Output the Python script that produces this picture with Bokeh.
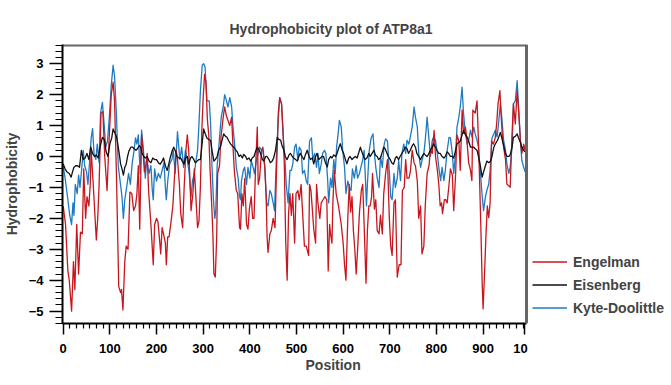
from bokeh.plotting import figure
from bokeh.models import Range1d, SingleIntervalTicker, FixedTicker, Legend, LegendItem, Title, Span
from bokeh.embed import file_html
from bokeh.resources import INLINE

# ---------------- data ----------------
engelman_pos = [0, 5, 10, 13, 18, 22, 25, 29, 33, 37, 41, 44, 48, 51, 55, 58, 60, 64, 68, 71, 74, 77, 81, 85, 89, 94, 98,
                103, 107, 110, 114, 119, 123, 125, 128, 132, 135, 139, 143, 147, 151, 155, 158, 161, 164, 168, 171, 174,
                177, 180, 183, 188, 193, 196, 200, 203, 206, 209, 212, 215, 219, 221, 224, 227, 232, 235, 238, 242, 245,
                249, 252, 256, 259, 263, 266, 269, 272, 274, 278, 281, 284, 288, 291, 294, 297, 300, 303, 306, 309, 312,
                315, 319, 321, 323, 326, 329, 331, 335, 338, 343, 346, 350, 353, 357, 361, 364, 367, 371, 374, 378, 380,
                383, 386, 389, 393, 396, 399, 403, 406, 409, 412, 416, 418, 421, 425, 428, 432, 435, 437, 439, 443, 446,
                450, 454, 457, 461, 464, 468, 471, 474, 477, 480, 483, 486, 489, 492, 496, 499, 503, 506, 510, 512, 517,
                521, 526, 528, 531, 533, 537, 541, 543, 546, 550, 553, 557, 561, 565, 568, 571, 573, 576, 578, 581, 585,
                590, 596, 600, 603, 606, 610, 613, 616, 619, 622, 625, 628, 631, 635, 639, 642, 645, 649, 652, 655, 658,
                661, 663, 667, 670, 673, 677, 680, 684, 687, 691, 695, 699, 702, 705, 709, 712, 716, 720, 724, 727, 731,
                734, 737, 741, 744, 748, 752, 755, 759, 762, 766, 769, 773, 776, 780, 784, 787, 791, 795, 798, 802, 805,
                808, 811, 813, 817, 820, 823, 827, 830, 834, 837, 841, 844, 848, 851, 855, 858, 862, 865, 869, 873, 876,
                878, 883, 887, 890, 892, 895, 898, 900, 903, 906, 909, 912, 915, 918, 922, 926, 929, 932, 936, 938, 941,
                944, 948, 951, 955, 958, 962, 965, 969, 973, 976, 980, 983, 987, 990]
engelman_val = [-1.6, -2.2, -3.7, -4.0, -5.0, -3.4, -4.3, -2.2, -3.8, -2.45, -2.5, -0.4, -2.0, -1.3, -1.6, -0.9, 0.2, -0.8,
                -1.9, -2.7, -2.0, -0.9, 1.4, 1.45, 0.0, -1.1, 0.4, 2.0, 2.4, 1.8, -0.5, -4.2, -4.4, -4.3, -4.96, -3.4,
                -2.9, -3.0, -1.15, -1.2, -1.75, -1.6, -1.2, -0.3, -2.35, 0.7, 0.2, -0.5, -0.3, 0.1, -1.1, -2.2, -3.5,
                -2.2, -2.0, -2.1, -2.6, -3.15, -2.3, -2.5, -2.8, -3.5, -2.6, -2.6, -2.0, -1.6, -0.8, 0.2, -0.1, -0.9,
                -1.85, -2.3, -1.1, 0.2, 0.7, 0.2, -0.9, -1.75, -1.2, -0.4, -1.2, -2.3, -2.1, -1.0, 0.8, 1.9, 2.65, 2.4,
                1.2, 0.7, -0.5, -1.8, -2.6, -3.8, -3.9, -2.6, -0.55, -0.3, 0.6, 1.27, 1.6, 1.3, 1.17, 1.0, 1.27, 0.3,
                -0.5, -1.1, -1.2, -2.3, -2.35, -1.2, -1.6, -0.72, -2.2, -2.35, -1.7, -1.3, -2.0, -2.0, -0.5, 0.95, -0.9,
                -0.7, 0.2, 0.3, -0.3, -1.3, -2.6, -3.1, -2.5, -2.4, -2.0, -2.3, -0.55, 1.4, 1.9, 1.7, 0.9, -0.3, -2.8,
                -4.0, -1.85, -1.2, -1.9, -1.2, -2.8, -1.2, -1.1, -1.4, -0.9, -1.5, -2.9, -2.9, -3.2, -0.9, -1.1, -1.5,
                -2.35, -2.8, -0.9, -1.5, -2.0, -1.5, -1.4, -1.3, -1.4, -3.7, -2.2, -2.5, -2.8, -1.5, -0.45, -1.2, -1.6,
                -2.2, -2.8, -3.5, -4.0, -2.0, -0.9, -1.8, -1.3, -2.4, -3.0, -3.8, -3.0, -1.8, -1.1, -0.9, -2.2, -4.1,
                -2.4, -1.6, -1.6, -1.3, -0.55, -1.7, -1.4, -2.4, -2.5, -1.9, -2.5, -1.2, -0.55, -0.1, -2.0, -2.9, -3.2,
                -1.5, -1.4, -3.9, -3.5, -3.5, -1.1, -1.0, -0.1, -0.7, -0.7, -0.5, 0.2, -0.2, -0.3, -0.8, -2.0, -1.6,
                -3.15, -2.9, -1.6, -0.55, -0.3, 0.2, 0.1, 0.84, 0.0, -0.45, -0.9, -1.6, -1.5, -1.85, -1.4, -1.4, -1.5,
                -0.9, -0.4, -0.6, -1.75, -0.6, 0.7, 0.5, -0.45, 1.5, 0.75, 0.95, 0.6, -0.2, -0.45, -0.78, 1.5, 1.4, 1.8,
                0.5, -0.5, -2.2, -4.1, -4.93, -3.8, -2.6, -1.6, -1.98, -1.5, 0.5, 0.4, 0.6, 1.05, 1.7, 2.13, 1.5, 0.7,
                0.3, -0.1, -0.9, -0.95, -1.0, 0.7, 1.7, 1.05, 2.13, 1.5, 0.5, 0.1, 0.4, 0.2]

eisenberg_pos = [0, 4, 8, 13, 17, 20, 23, 27, 31, 35, 39, 43, 47, 51, 55, 59, 63, 67, 71, 75, 79, 84, 88, 92, 96, 100,
                 104, 107, 111, 114, 117, 120, 123, 126, 129, 132, 135, 138, 141, 145, 149, 152, 156, 159, 163, 166, 169,
                 173, 176, 180, 184, 188, 192, 196, 200, 204, 208, 212, 215, 219, 223, 227, 230, 234, 237, 241, 244, 248,
                 252, 255, 259, 262, 266, 269, 273, 276, 280, 283, 287, 291, 294, 297, 301, 304, 308, 312, 316, 319, 323,
                 326, 330, 333, 337, 341, 344, 348, 351, 355, 359, 362, 366, 370, 373, 377, 380, 384, 387, 391, 394, 398,
                 402, 405, 409, 412, 416, 420, 423, 427, 430, 434, 437, 441, 444, 448, 451, 455, 459, 462, 466, 469, 473,
                 476, 480, 484, 487, 491, 494, 498, 502, 505, 508, 512, 516, 519, 523, 527, 530, 534, 537, 541, 544, 548,
                 551, 555, 558, 562, 566, 569, 573, 576, 580, 584, 587, 591, 594, 598, 601, 605, 608, 612, 615, 619, 622,
                 626, 630, 633, 637, 640, 644, 647, 651, 655, 658, 662, 666, 669, 673, 676, 680, 683, 687, 690, 694, 697,
                 701, 704, 708, 712, 715, 719, 722, 726, 730, 733, 737, 740, 744, 748, 751, 755, 758, 762, 766, 769, 773,
                 776, 780, 784, 787, 791, 794, 798, 801, 805, 808, 812, 816, 819, 823, 826, 830, 834, 837, 841, 844, 848,
                 851, 855, 858, 862, 866, 869, 873, 876, 880, 883, 887, 890, 894, 898, 901, 905, 908, 912, 916, 919, 923,
                 926, 930, 933, 937, 940, 944, 948, 951, 955, 958, 962, 965, 969, 973, 976, 980, 983, 987, 990]
eisenberg_val = [-0.24, -0.4, -0.5, -0.55, -0.67, -0.5, -0.35, -0.3, -0.3, -0.35, 0.2, -0.1, -0.05, 0.1, -0.1, 0.31, 0.1,
                 0.0, 0.05, -0.05, 0.3, 0.62, 0.55, 0.15, 0.0, 0.4, 0.6, 0.89, 0.75, 0.65, 0.4, 0.1, -0.24, -0.4, -0.6,
                 -0.35, -0.25, 0.0, 0.18, 0.3, 0.3, 0.25, 0.2, 0.25, 0.35, 0.3, 0.1, 0.0, -0.05, 0.0, -0.15, -0.2, -0.05,
                 -0.1, -0.1, -0.2, -0.25, -0.15, -0.05, -0.3, -0.45, -0.2, 0.0, 0.2, 0.3, 0.15, 0.0, -0.05, -0.05, -0.15,
                 -0.25, -0.05, 0.0, -0.25, -0.05, 0.0, -0.1, -0.2, -0.15, -0.1, -0.1, 0.3, 0.89, 0.75, 0.6, 0.55, 0.52,
                 0.2, -0.15, -0.1, 0.0, 0.2, 0.3, 0.55, 0.73, 0.65, 0.62, 0.5, 0.4, 0.35, 0.3, 0.2, 0.15, 0.0, 0.05,
                 -0.05, 0.07, 0.0, -0.1, -0.05, -0.15, -0.05, 0.0, 0.15, 0.3, 0.2, 0.1, -0.1, -0.15, 0.0, 0.0, -0.1, -0.2,
                 -0.15, -0.05, 0.2, 0.62, 0.55, 0.53, 0.35, 0.2, 0.0, -0.1, 0.05, 0.1, 0.0, -0.05, -0.1, -0.15, 0.0, 0.1,
                 0.0, -0.1, 0.05, 0.2, 0.0, -0.1, -0.05, -0.24, 0.0, 0.1, -0.1, -0.05, 0.0, 0.0, -0.2, -0.34, -0.1, 0.0,
                 -0.05, 0.05, 0.0, 0.1, 0.3, 0.41, 0.2, 0.1, -0.1, -0.24, -0.05, 0.0, -0.1, -0.05, 0.0, -0.05, 0.1, 0.3,
                 0.15, 0.0, -0.1, -0.05, 0.1, 0.0, 0.1, 0.2, 0.05, 0.0, -0.1, -0.05, 0.1, 0.3, 0.25, 0.1, 0.0, -0.1, -0.2,
                 -0.25, -0.05, 0.0, -0.1, 0.0, 0.1, 0.2, 0.3, 0.25, 0.1, 0.2, 0.35, 0.41, 0.3, 0.1, 0.0, -0.1, 0.0, 0.1,
                 0.05, 0.0, 0.1, 0.2, 0.3, 0.41, 0.3, 0.2, 0.1, 0.1, 0.0, -0.05, 0.0, 0.15, 0.1, 0.0, 0.0, -0.05, 0.2,
                 0.41, 0.45, 0.5, 0.7, 0.84, 0.7, 0.62, 0.5, 0.3, 0.3, 0.3, 0.25, 0.2, 0.0, -0.3, -0.67, -0.5, -0.3,
                 -0.15, -0.2, -0.15, 0.0, 0.3, 0.4, 0.5, 0.6, 0.78, 0.6, 0.35, 0.1, 0.0, 0.0, 0.05, 0.3, 0.62, 0.65,
                 0.73, 0.6, 0.45, 0.3, 0.2, 0.15]

kyte_pos = [0, 5, 10, 14, 18, 21, 23, 26, 30, 33, 36, 40, 43, 46, 50, 53, 56, 60, 63, 66, 70, 73, 77, 80, 84, 88, 91, 95,
            99, 103, 107, 110, 114, 118, 122, 126, 129, 132, 136, 140, 144, 148, 152, 155, 158, 161, 165, 168, 172, 176,
            179, 184, 188, 191, 193, 196, 200, 204, 208, 212, 216, 219, 221, 224, 228, 233, 236, 240, 243, 245, 250,
            254, 258, 262, 266, 270, 274, 277, 281, 285, 288, 291, 294, 298, 301, 304, 308, 313, 316, 319, 322, 325,
            327, 330, 333, 336, 339, 343, 346, 350, 353, 357, 361, 364, 368, 371, 375, 378, 380, 382, 386, 389, 393,
            396, 400, 403, 407, 410, 414, 418, 421, 425, 428, 432, 436, 439, 443, 446, 450, 453, 457, 461, 464, 468,
            471, 475, 478, 482, 486, 489, 492, 496, 499, 503, 506, 510, 513, 517, 521, 524, 528, 532, 535, 539, 543,
            546, 549, 553, 556, 560, 563, 567, 569, 573, 576, 580, 583, 586, 589, 592, 596, 599, 603, 606, 610, 614,
            617, 620, 624, 628, 631, 635, 638, 642, 645, 648, 650, 652, 656, 660, 664, 667, 670, 673, 677, 680, 684,
            688, 691, 695, 698, 702, 705, 709, 712, 716, 719, 723, 726, 730, 734, 737, 741, 744, 748, 752, 755, 759,
            762, 766, 769, 773, 776, 780, 783, 787, 791, 794, 798, 801, 805, 809, 812, 816, 819, 823, 827, 830, 834,
            837, 841, 844, 848, 851, 855, 858, 862, 866, 869, 873, 876, 880, 883, 887, 890, 894, 897, 901, 905, 908,
            912, 915, 919, 923, 926, 930, 933, 937, 940, 944, 948, 951, 955, 958, 962, 965, 969, 973, 976, 980, 983,
            987, 990]
kyte_val = [-0.3, -0.8, -1.4, -1.9, -2.2, -1.5, -1.9, -0.9, -1.2, -0.6, -1.0, -0.35, 0.2, -0.3, -0.5, -0.9, -0.3, 0.6,
            0.9, 0.1, -0.1, 0.4, -0.2, 1.4, 1.75, 1.0, 0.3, 0.5, 1.3, 2.3, 2.95, 2.6, 1.4, -0.3, -0.8, -1.3, -2.0, -1.4,
            -1.0, -0.55, -0.9, -0.2, 0.2, 0.6, 0.4, 0.7, -0.55, 0.85, 0.2, -0.7, -0.1, -0.55, -0.3, -1.1, -1.4, -0.4,
            -0.8, -0.55, -0.7, -0.45, -0.2, -1.0, -1.4, -0.8, -0.25, -0.1, 0.2, -0.55, 0.3, 0.8, -0.1, 0.3, -0.35, 0.2,
            -0.1, -0.55, -1.3, -0.8, -0.55, -0.1, 0.2, 1.05, 2.1, 2.95, 3.0, 2.9, 1.8, 1.8, 1.05, -0.35, -1.4, -2.0,
            -1.75, -0.3, 0.2, 0.8, 1.3, 1.6, 2.0, 1.8, 1.6, 1.9, 1.6, 0.95, 0.3, -0.35, -0.7, -1.3, -1.4, -0.8, -0.45,
            -0.35, -0.9, -0.35, -0.7, -0.13, -0.35, -0.55, -0.13, 0.1, 0.3, 0.2, 0.2, -0.35, -1.5, -1.6, -1.1, -1.2,
            -1.5, -1.75, 0.0, 1.2, 1.9, 1.7, 0.75, 0.0, -0.9, -1.5, -0.45, -0.45, -0.25, 0.3, 0.4, -0.1, 0.3, 0.2,
            -0.55, -0.45, -0.8, -0.9, 0.5, 0.6, -0.1, 0.1, -0.35, 0.1, -0.55, -0.25, 0.1, 0.2, 0.1, -0.8, -1.5, -0.7,
            -1.0, -0.1, -0.55, 0.3, 0.7, 1.17, 0.95, 0.2, -0.35, -1.2, -0.8, -1.0, -1.1, -0.4, -0.7, -0.3, -0.7, -0.55,
            -0.35, -0.1, 0.2, -0.8, -1.6, -0.9, 0.2, 0.6, 0.73, 0.1, -0.35, -0.7, -1.0, 0.0, -0.35, 0.4, 0.57, 0.5,
            -0.25, -1.3, -1.4, -0.55, -1.0, -0.7, -0.13, -0.78, 0.1, 0.4, 0.1, 0.52, 0.4, 0.63, 0.95, 1.6, 1.27, 0.95,
            0.1, -0.35, -0.13, 0.1, 0.52, 1.27, 0.73, 0.0, 0.52, 0.63, 0.52, 0.2, -0.35, -0.78, -0.35, -0.78, -0.45,
            0.2, 0.62, 0.6, 0.1, -0.55, 0.1, 0.95, 1.27, 1.6, 2.24, 1.4, 0.73, 0.4, 0.52, 0.85, 0.63, 0.95, 0.73,
            0.52, 0.3, -0.45, -1.1, -1.75, -1.3, -1.1, -0.9, -0.45, 0.6, 0.73, 0.85, 0.63, 1.05, 1.7, 1.27, 0.52, 0.2,
            -0.25, -0.55, -0.35, 0.3, 1.7, 1.8, 2.45, 1.6, 0.52, -0.13, -0.35, -0.5]

series_names = ["Engelman", "Eisenberg", "Kyte-Doolittle"]
x_major_ticks = [0, 100, 200, 300, 400, 500, 600, 700, 800, 900]
x_tick_labels = ["0", "100", "200", "300", "400", "500", "600", "700", "800", "900"]
# the "1000" label of the reference is cut by the frame and shows only "10"
x_clipped_tick = 988
x_clipped_label = "10\u00a0\u00a0"

# ---------------- figure ----------------
FONT = "Liberation Sans"
X_START, X_END = -1.5, 993          # visible data area of the chart
Y_START, Y_END = -5.4, 3.62
PLOT_PX = 464                        # pixel width of the data area
FRAME_PX = 671 - 62                  # frame also hosts the legend to the right of the data area
X_VIEW_END = X_START + (X_END - X_START) * FRAME_PX / PLOT_PX

p = figure(width=671, height=385, output_backend="svg", toolbar_location=None,
           x_range=Range1d(X_START, X_VIEW_END), y_range=Range1d(Y_START, Y_END),
           min_border_left=62, min_border_right=0, min_border_top=44, min_border_bottom=62)
p.background_fill_color = "white"
p.border_fill_color = "white"
p.grid.visible = False
p.outline_line_color = None

BORDER = "#666666"
# top and right border of the data area
p.segment(x0=[X_START], x1=[X_END], y0=[Y_END], y1=[Y_END], line_color=BORDER, line_width=4)
p.add_layout(Span(location=X_END, dimension="height", line_color=BORDER, line_width=3))

# title (left aligned with an offset so it sits where the reference has it)
p.title.text = "Hydrophobicity plot of ATP8a1"
p.title.align = "left"
p.title.offset = 167
p.title.text_font = FONT
p.title.text_font_style = "bold"
p.title.text_font_size = "14px"
p.title.standoff = 16

# x ticks: 7 minor intervals per 100
minor = [m * 100 / 7 for m in range(0, 70)]
minor = [m for m in minor if m < X_END and all(abs(m - t) > 1e-6 for t in x_major_ticks)]
p.xaxis.ticker = FixedTicker(ticks=x_major_ticks + [x_clipped_tick], minor_ticks=minor)
p.xaxis.major_label_overrides = dict(
    [(t, s) for t, s in zip(x_major_ticks, x_tick_labels)] + [(x_clipped_tick, x_clipped_label)])
p.xaxis.bounds = (X_START, X_END)
p.yaxis.ticker = SingleIntervalTicker(interval=1, num_minor_ticks=5)

for ax in (p.xaxis[0], p.yaxis[0]):
    ax.axis_line_color = "black"
    ax.axis_line_width = 2
    ax.major_tick_line_color = "black"
    ax.minor_tick_line_color = "black"
    ax.major_tick_line_width = 1.5
    ax.minor_tick_line_width = 1.2
    ax.major_tick_in = 0
    ax.minor_tick_in = 0
    ax.major_label_text_font = FONT
    ax.major_label_text_font_style = "bold"
    ax.major_label_text_font_size = "13px"
    ax.major_label_text_color = "black"
    ax.axis_label_text_font = FONT
    ax.axis_label_text_font_style = "bold"
    ax.axis_label_text_font_size = "14px"

p.xaxis.major_tick_out = 11
p.xaxis.minor_tick_out = 5
p.xaxis.major_label_standoff = 6
p.yaxis.major_tick_out = 13
p.yaxis.minor_tick_out = 7
p.yaxis.major_label_standoff = 6
p.yaxis.axis_label = "Hydrophobicity"
p.yaxis.axis_label_standoff = 6

xlabel = Title(text="Position", align="left", offset=243, vertical_align="bottom", text_font=FONT,
               text_font_style="bold", text_font_size="14px", standoff=-8)
p.add_layout(xlabel, "below")

# lines
r_blue = p.line(kyte_pos, kyte_val, line_color="#1f7ac2", line_width=1.3, line_join="round")
r_red = p.line(engelman_pos, engelman_val, line_color="#c8161e", line_width=1.3, line_join="round")
r_black = p.line(eisenberg_pos, eisenberg_val, line_color="#111111", line_width=1.3, line_join="round")

legend = Legend(items=[LegendItem(label=series_names[0], renderers=[r_red]),
                       LegendItem(label=series_names[1], renderers=[r_black]),
                       LegendItem(label=series_names[2], renderers=[r_blue])],
                location=(PLOT_PX + 6, 7), orientation="vertical")
legend.glyph_width = 35
legend.glyph_height = 17
legend.label_height = 17
legend.label_standoff = 6
legend.spacing = 6
legend.padding = 0
legend.margin = 0
legend.border_line_alpha = 0
legend.background_fill_alpha = 0
legend.label_text_font = FONT
legend.label_text_font_style = "bold"
legend.label_text_font_size = "14px"
p.add_layout(legend)

open("out.html", "w").write(file_html(p, INLINE))
